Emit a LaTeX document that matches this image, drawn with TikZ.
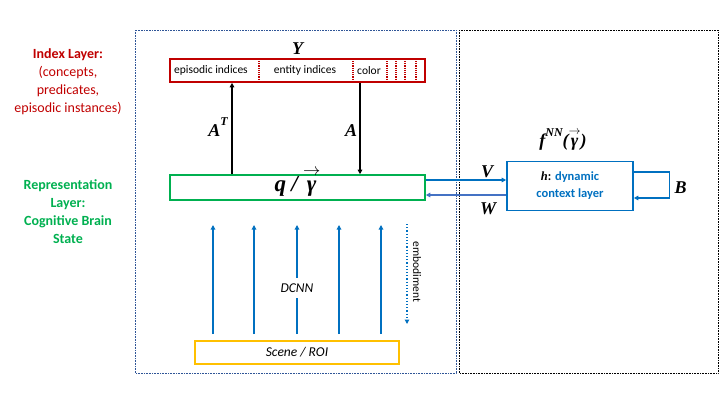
\documentclass[tikz,border=0pt]{standalone}
\usepackage{amsmath}
\usepackage{fontspec}
\setmainfont{Carlito}
\newfontfamily\mathlike{Liberation Serif}
\usetikzlibrary{arrows.meta,positioning,calc}
\definecolor{idxred}{HTML}{C00000}
\definecolor{repgreen}{HTML}{00B050}
\definecolor{ctxblue}{HTML}{0070C0}
\definecolor{wblue}{HTML}{4472C4}
\definecolor{roiyellow}{HTML}{FFC000}
\definecolor{frameblue}{HTML}{2F5597}
\newcommand{\mv}[1]{{\mathlike\bfseries\itshape #1}}
\newcommand{\vecgamma}{$\overset{\rightarrow}{\hbox{\mv{γ}}}$}

\begin{document}
\begin{tikzpicture}[x=1pt, y=-1pt,
      layerbox/.style={draw, line width=1.6pt, minimum width=255pt, inner sep=0pt},
      sidelbl/.style={font=\fontsize{14}{18}\selectfont, align=center},
      cell/.style={font=\fontsize{11.5}{14}\selectfont, inner sep=0pt},
      mlbl/.style={font=\fontsize{18}{18}\selectfont},
      flow/.style={-{Triangle[length=4.5pt,width=4.5pt]}, line width=1.2pt},
      divider/.style={idxred, densely dotted, line width=1.2pt}
    ]
      \useasboundingbox (0,0) rectangle (720,405);

      % frames
      \draw[frameblue, densely dotted, line width=0.6pt] (135,30) rectangle (456,373);
      \draw[black, densely dotted, line width=0.6pt] (459,30) rectangle (718,373);

      % side labels
      \node[sidelbl, idxred] (idxlbl) at (68,81.5) {\textbf{Index Layer:}\\(concepts,\\predicates,\\episodic instances)};
      \node[sidelbl, repgreen] (replbl) at (68,212) {\textbf{Representation}\\\textbf{Layer:}\\\textbf{Cognitive Brain}\\\textbf{State}};

      % index layer
      \node[layerbox, idxred, minimum height=23pt] (index) at (297.5,70.5) {};
      \node[mlbl, above=0pt of index] (ylbl) {\mv{Y}};
      \node[cell] (epi) at (211,70.5) {episodic indices};
      \node[cell] (ent) at (305,70.5) {entity indices};
      \node[cell] (col) at (369,70.5) {color};
      \foreach \x in {259,353,387,396,405,416}
        \draw[divider] (\x,61) -- (\x,80);

      % representation layer
      \node[layerbox, repgreen, minimum height=25pt, text height=12pt, text depth=5pt,
            text=black, font=\fontsize{23}{23}\selectfont] (rep) at (297.5,187.5)
            {\mv{q} \mv{/} \vecgamma};

      \draw[flow] ([xshift=-65.5pt]rep.north) -- ([xshift=-65.5pt]index.south);
      \draw[flow] ([xshift=62.5pt]index.south) -- ([xshift=62.5pt]rep.north);
      \node[mlbl] (atlbl) at (218,127) {\mv{A}\raisebox{1.2ex}{\fontsize{12}{12}\selectfont\mv{T}}};
      \node[mlbl] (albl) at (351,131) {\mv{A}};

      % dynamic context layer
      \node[draw=ctxblue, line width=1.6pt, minimum width=126pt, minimum height=49pt,
            align=center, text=ctxblue, font=\fontsize{12.5}{17}\selectfont\bfseries]
            (ctx) at (570,186) {\textcolor{black}{\mv{h}:} dynamic\\context layer};
      \node[mlbl] (flbl) at (563,139) {\mv{f}\raisebox{1.1ex}{\fontsize{12}{12}\selectfont\mv{NN}}\mv{(}\vecgamma\mv{)}};

      \draw[flow, ctxblue] ([yshift=7.5pt]rep.east) -- ([yshift=7.5pt]rep.east -| ctx.west);
      \draw[flow, wblue] ([yshift=-7.5pt]rep.east -| ctx.west) -- ([yshift=-7.5pt]rep.east);
      \node[mlbl] (vlbl) at (487,172) {\mv{V}};
      \node[mlbl] (wlbl) at (488,209) {\mv{W}};

      \draw[flow, ctxblue] ([yshift=14pt]ctx.east) -- ++(36,0) -- ++(0,26) -- ([yshift=-12pt]ctx.east);
      \node[mlbl, anchor=west] (blbl) at (671,188) {\mv{B}};

      % scene and DCNN
      \node[draw=roiyellow, line width=1.6pt, minimum width=204pt, minimum height=23pt,
            font=\fontsize{13.5}{15}\selectfont\itshape] (scene) at (297,352.5) {Scene / ROI};
      \foreach \x/\n in {213/1,254/2,297/3,339/4,381/5} {
        \coordinate (in\n) at (\x,334);
        \coordinate (out\n) at (\x,225);
        \draw[flow, ctxblue] (in\n) -- (out\n);
      }
      \node[fill=white, inner ysep=6pt, inner xsep=1pt, font=\fontsize{13.5}{15}\selectfont\itshape] (dcnn) at (297,288) {DCNN};

      \coordinate (emtop) at (407,224);
      \coordinate (embot) at (407,324);
      \draw[flow, ctxblue, dotted] (emtop) -- (embot);
      \node[rotate=-90, font=\fontsize{11.5}{13}\selectfont] (emlbl) at (417,272) {embodiment};
    \end{tikzpicture}
\end{document}
